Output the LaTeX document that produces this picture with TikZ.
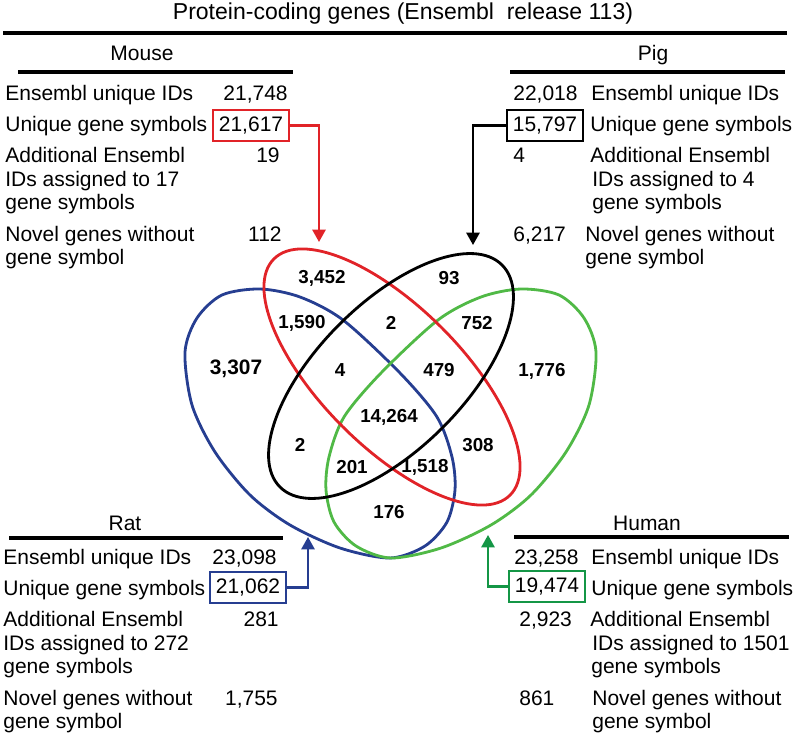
\documentclass[tikz,border=0pt]{standalone}
\usepackage{fontspec}
\setmainfont{Liberation Sans}
\usetikzlibrary{arrows.meta}
\definecolor{vpiros}{RGB}{225,35,40}
\definecolor{vkek}{RGB}{38,62,145}
\definecolor{vzold}{RGB}{80,185,70}
\definecolor{vzoldk}{RGB}{20,150,70}
\tikzset{
  sor/.style={anchor=base west,inner sep=0pt,font=\fontsize{11.95}{13}\selectfont},
  szamj/.style={anchor=base east,inner sep=0pt,font=\fontsize{11.95}{13}\selectfont},
  fejlec/.style={anchor=base,inner sep=0pt,font=\fontsize{11.95}{13}\selectfont},
  keret/.style={draw,line width=1.2pt,inner sep=0pt,minimum width=43.2pt,minimum height=17.6pt,
                font=\fontsize{11.95}{13}\selectfont},
  mutato/.style={line width=1.2pt,-{Triangle[length=7pt,width=7.5pt]}},
  halmaz/.style={line width=1.6pt},
  metszet/.style={inner sep=0pt,font=\fontsize{10.7}{12}\bfseries\selectfont},
  vonal/.style={line width=2pt},
}
\begin{document}
\begin{tikzpicture}[x=0.02cm,y=-0.02cm]
  \useasboundingbox (0,0) rectangle (794,736);
  % cim
  \node[fejlec,font=\fontsize{13.1}{15}\selectfont] (cim) at (403,20) {Protein-coding genes (Ensembl\ \ release 113)};
  \draw[vonal] (3,33) -- (787,33);
  % eger tabla
  \node[fejlec] (eger) at (142,61) {Mouse};
  \draw[vonal] (18,72) -- (293,72);
  \foreach \t/\y [count=\i] in {Ensembl unique IDs/101,Unique gene symbols/132,Additional Ensembl/163,
      IDs assigned to 17/187,gene symbols/210,Novel genes without/242,gene symbol/265}
    \node[sor] (eger\i) at (5,\y) {\t};
  \node[szamj] (egerA) at (288,101) {21,748};
  \node[keret,draw=vpiros] (ebox) at (251,125.5) {21,617};
  \node[szamj] (egerB) at (280,163) {19};
  \node[szamj] (egerC) at (282,242) {112};
  % diszno tabla
  \node[fejlec] (diszno) at (653,61) {Pig};
  \draw[vonal] (510,72) -- (785,72);
  \node[sor] (pA) at (513,101) {22,018};
  \node[sor] (p1) at (591,101) {Ensembl unique IDs};
  \node[keret] (pbox) at (545,125.5) {15,797};
  \node[sor] (p2) at (590,132) {Unique gene symbols};
  \node[sor] (pB) at (513,163) {4};
  \node[sor] (p3) at (590,163) {Additional Ensembl};
  \node[sor] (p4) at (592,187) {IDs assigned to 4};
  \node[sor] (p5) at (592,210) {gene symbols};
  \node[sor] (pC) at (513,242) {6,217};
  \node[sor] (p6) at (585,242) {Novel genes without};
  \node[sor] (p7) at (585,265) {gene symbol};
  % patkany tabla
  \node[fejlec] (patkany) at (125,530) {Rat};
  \draw[vonal] (9,538) -- (283,538);
  \foreach \t/\y [count=\i] in {Ensembl unique IDs/564,Unique gene symbols/595,Additional Ensembl/626,
      IDs assigned to 272/650,gene symbols/673,Novel genes without/705,gene symbol/728}
    \node[sor] (rat\i) at (3,\y) {\t};
  \node[szamj] (ratA) at (277,564) {23,098};
  \node[keret,draw=vkek] (rbox) at (248,587.5) {21,062};
  \node[szamj] (ratB) at (279,626) {281};
  \node[szamj] (ratC) at (278,705) {1,755};
  % ember tabla
  \node[fejlec] (ember) at (647,530) {Human};
  \draw[vonal] (514,537) -- (789,537);
  \node[sor] (hA) at (514,564) {23,258};
  \node[sor] (h1) at (591,564) {Ensembl unique IDs};
  \node[keret,draw=vzoldk] (hbox) at (547,586.5) {19,474};
  \node[sor] (h2) at (591,595) {Unique gene symbols};
  \node[sor] (hB) at (519,626) {2,923};
  \node[sor] (h3) at (590,626) {Additional Ensembl};
  \node[sor] (h4) at (592,650) {IDs assigned to 1501};
  \node[sor] (h5) at (591,673) {gene symbols};
  \node[sor] (hC) at (519,705) {861};
  \node[sor] (h6) at (592,705) {Novel genes without};
  \node[sor] (h7) at (592,728) {gene symbol};
  % venn diagram
  \draw[halmaz,vkek] plot[smooth cycle] coordinates {(185,352) (197,318) (222,295) (260,289) (300,297)
    (343,320) (400,373) (437,417) (452,457) (455,490) (447,522) (425,546) (390,558) (340,548)
    (290,525) (250,495) (215,452) (192,405)};
  \draw[halmaz,vzold] plot[smooth cycle] coordinates {(596,352) (584,318) (559,295) (521,289) (481,297)
    (438,320) (381,373) (344,417) (329,457) (326,490) (334,522) (356,546) (391,558) (441,548)
    (491,525) (531,495) (566,452) (589,405)};
  \draw[halmaz,vpiros,rotate around={-45:(392,377)}] (392,377) ellipse (167 and 70);
  \draw[halmaz,rotate around={45:(391,376)}] (391,376) ellipse (157 and 73);
  \foreach \t/\x/\y [count=\i] in {{3,452}/322/278,93/449/278,{1,590}/302/323,2/391/323,752/477/323,
      4/340/370,479/439/370,{1,776}/542/371,{14,264}/389/417,2/300/445,
      308/478/445,201/352/467,{1,518}/425/467,176/389/512}
    \node[metszet] (m\i) at (\x,\y) {\t};
  \node[metszet,font=\fontsize{11.9}{13}\bfseries\selectfont] (mkek) at (236,369) {3,307};
  % nyilak
  \coordinate (etip) at (319,242);
  \coordinate (ptip) at (473,245);
  \coordinate (rtip) at (308,537);
  \coordinate (htip) at (488,535);
  \draw[mutato,vpiros] (ebox.east) -| (etip);
  \draw[mutato] (pbox.west) -| (ptip);
  \draw[mutato,vkek] (rbox.east) -| (rtip);
  \draw[mutato,vzoldk] (hbox.west) -| (htip);
\end{tikzpicture}
\end{document}
